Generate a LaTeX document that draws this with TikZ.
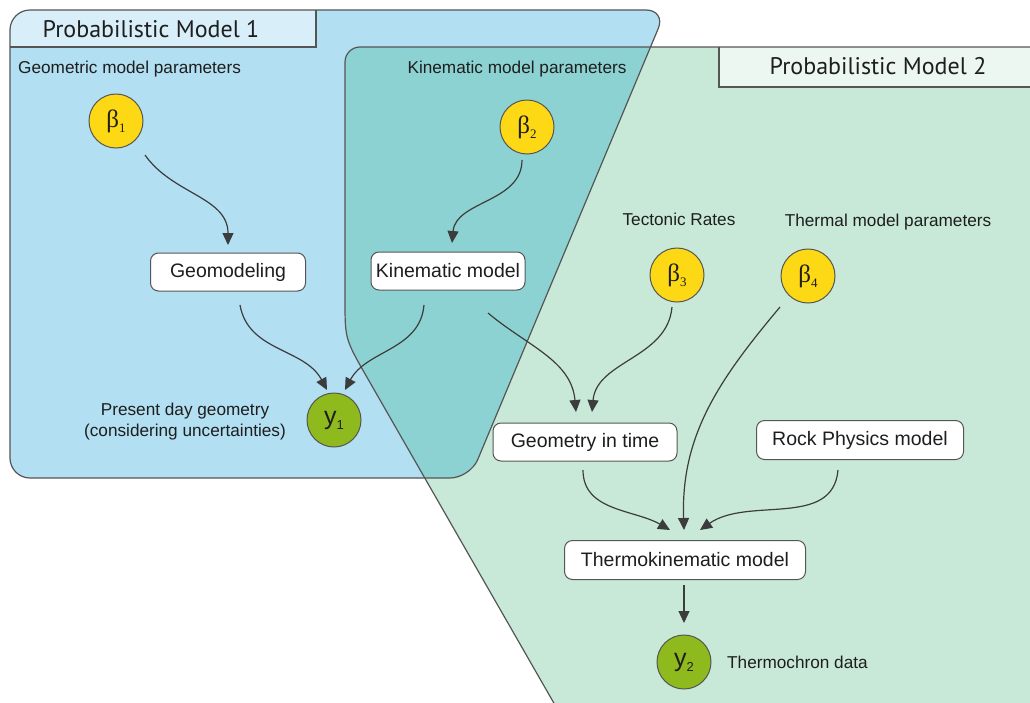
\documentclass[tikz,border=0pt]{standalone}
\usepackage{fontspec}
\setmainfont{Liberation Sans}
\newfontfamily\titlefont{PT Sans}
\newfontfamily\greekfont{Liberation Serif}
\usetikzlibrary{arrows.meta}
\definecolor{blueF}{RGB}{178,223,241}
\definecolor{tealF}{RGB}{141,210,210}
\definecolor{greenF}{RGB}{200,233,215}
\definecolor{tabA}{RGB}{216,238,248}
\definecolor{tabB}{RGB}{235,247,240}
\definecolor{lineC}{RGB}{85,85,85}
\definecolor{arrC}{RGB}{60,60,60}
\definecolor{yellowC}{RGB}{252,217,20}
\definecolor{obsC}{RGB}{143,186,30}
\definecolor{txtC}{RGB}{30,30,30}
\newcommand{\bsym}[1]{{\greekfont\fontsize{25}{25}\selectfont β\raisebox{-5pt}{\fontsize{13}{13}\selectfont #1}}}
\newcommand{\ysym}[1]{{\fontsize{25}{25}\selectfont y\raisebox{-5pt}{\fontsize{13}{13}\selectfont #1}}}
\begin{document}
\begin{tikzpicture}[x=1pt,y=1pt,
  box/.style={draw=lineC, fill=white, rounded corners=8pt, line width=1pt, inner sep=0pt, text=txtC, font=\fontsize{19.5}{22}\selectfont},
  param/.style={circle, draw=lineC, fill=yellowC, line width=1pt, minimum size=54pt, inner sep=0pt, text=txtC},
  obs/.style={circle, draw=lineC, fill=obsC, line width=1pt, minimum size=54pt, inner sep=0pt, text=txtC},
  lbl/.style={inner sep=0pt, text=txtC, font=\fontsize{17.2}{21}\selectfont},
  ttl/.style={inner sep=0pt, text=txtC, font=\titlefont\fontsize{24}{26}\selectfont},
  arr/.style={draw=arrC, line width=1.2pt, -{Triangle[length=12pt,width=11pt]}},
  region/.style={draw=lineC, line width=1.2pt}
]
\useasboundingbox (0,0) rectangle (1030,-702);
\clip (0,0) rectangle (1030,-702);
\def\bluepath{[rounded corners=20pt] (10,-478) -- (10,-10) -- (666,-10) -- (470,-478) -- cycle}
\def\greenpath{(1040,-47) -- (360,-47) arc (90:180:15) -- (345,-300) .. controls (345,-339) .. (367.4,-378) -- (559,-712) -- (1040,-712) -- cycle}
% regions
\fill[blueF] \bluepath;
\fill[greenF] \greenpath;
\begin{scope}
  \clip \bluepath;
  \fill[tealF] \greenpath;
  \fill[tabA] (0,0) rectangle (316,-47);
\end{scope}
\fill[tabB] (719,-47) rectangle (1040,-87);
\draw[region] \bluepath;
\draw[region] \greenpath;
\draw[region] (316,-10) -- (316,-47) -- (10,-47);
\draw[region] (1040,-87) -- (719,-87) -- (719,-47);
% titles
\node[ttl] (m1) at (151,-29) {Probabilistic Model 1};
\node[ttl] (m2) at (878,-66) {Probabilistic Model 2};
% labels
\node[lbl, anchor=west] (t1) at (18,-69) {Geometric model parameters};
\node[lbl] (t2) at (517,-69) {Kinematic model parameters};
\node[lbl] (t3) at (679,-219) {Tectonic Rates};
\node[lbl] (t4) at (888,-222) {Thermal model parameters};
\node[lbl, align=center] (t5) at (185,-422) {Present day geometry\\(considering uncertainties)};
\node[lbl, anchor=west] (t6) at (727,-662) {Thermochron data};
% parameter nodes
\node[param] (b1) at (116,-121) {\bsym{1}};
\node[param] (b2) at (527,-127) {\bsym{2}};
\node[param] (b3) at (677,-275) {\bsym{3}};
\node[param] (b4) at (808,-276) {\bsym{4}};
% model boxes
\node[box, minimum width=155pt, minimum height=38pt] (geo) at (228,-272) {Geomodeling};
\node[box, minimum width=154pt, minimum height=38pt] (kin) at (448,-271) {Kinematic model};
\node[box, minimum width=184pt, minimum height=38pt] (git) at (585,-442) {Geometry in time};
\node[box, minimum width=207pt, minimum height=39pt] (rock) at (860,-440) {Rock Physics model};
\node[box, minimum width=241pt, minimum height=39pt] (thermo) at (685,-560) {Thermokinematic model};
% observations
\node[obs] (y1) at (334,-420) {\ysym{1}};
\node[obs] (y2) at (684,-662) {\ysym{2}};
% connectors
\draw[arr] ([shift={(29,-34)}]b1.center) to[out=-55,in=90] ([shift={(0,27)}]geo.center);
\draw[arr] ([shift={(-5,-33)}]b2.center) to[out=-90,in=85] ([shift={(4,28)}]kin.center);
\draw[arr] ([shift={(12,-33)}]geo.center) to[out=-80,in=118] ([shift={(-7,30)}]y1.center);
\draw[arr] ([shift={(-24,-34)}]kin.center) to[out=-95,in=62] ([shift={(11,30)}]y1.center);
\draw[arr] ([shift={(40,-42)}]kin.center) to[out=-40,in=95] ([shift={(-9,30)}]git.center);
\draw[arr] ([shift={(-5,-32)}]b3.center) to[out=-95,in=85] ([shift={(7,30)}]git.center);
\draw[arr] ([shift={(-28,-31)}]b4.center) to[out=-130,in=92] ([shift={(-1,30)}]thermo.center);
\draw[arr] ([shift={(-2,-28)}]git.center) to[out=-90,in=150] ([shift={(-15,30)}]thermo.center);
\draw[arr] ([shift={(-22,-30)}]rock.center) to[out=-95,in=35] ([shift={(15,30)}]thermo.center);
\draw[arr] ([shift={(-1,-25)}]thermo.center) -- ([shift={(0,39)}]y2.center);
\end{tikzpicture}
\end{document}
